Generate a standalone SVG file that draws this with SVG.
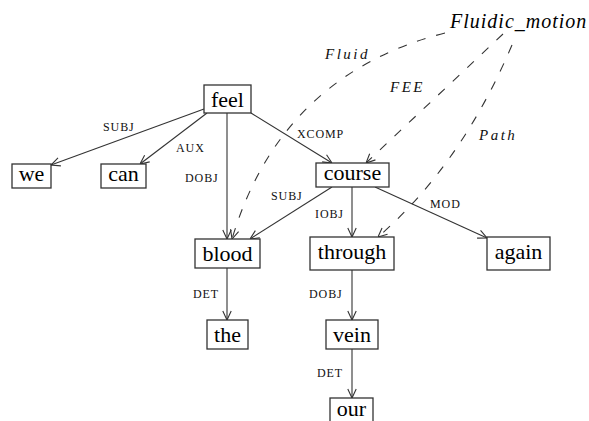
<svg xmlns="http://www.w3.org/2000/svg" width="589" height="421" viewBox="0 0 589 421">
<style>
.box{fill:#fff;stroke:#333;stroke-width:1.3}
.nt{font-family:"Liberation Serif",serif;font-size:22px;text-anchor:middle;fill:#000}
.el{font-family:"Liberation Serif",serif;font-size:12px;letter-spacing:0.9px;fill:#111}
.fl{font-family:"Liberation Serif",serif;font-style:italic;font-size:15px;letter-spacing:2.5px;fill:#111}
.e{fill:none;stroke:#333;stroke-width:1.1;marker-end:url(#arr)}
.d{fill:none;stroke:#333;stroke-width:1.1;stroke-dasharray:9 11;marker-end:url(#arr)}
</style>
<defs>
<marker id="arr" viewBox="0 0 10 10" refX="10" refY="5" markerWidth="10" markerHeight="10" markerUnits="userSpaceOnUse" orient="auto">
<path d="M1,0.8 L10,5 L1,9.2" fill="none" stroke="#333" stroke-width="1.1" stroke-dasharray="none"/>
</marker>
</defs>
<rect width="589" height="421" fill="#fff"/>
<g id="connectors">
<path class="e" d="M204,109 L51,165"/>
<path class="e" d="M207,113 L140,164"/>
<path class="e" d="M227,113 L227,239"/>
<path class="e" d="M251,113 L332,163"/>
<path class="e" d="M332,187 L250,239"/>
<path class="e" d="M352,187 L352,237"/>
<path class="e" d="M375,187 L487,238"/>
<path class="e" d="M227,268 L227,320"/>
<path class="e" d="M352,270 L352,320"/>
<path class="e" d="M352,349 L352,398"/>
<path class="d" d="M445,33 Q281,75 232,239"/>
<path class="d" d="M503,34 L366,163"/>
<path class="d" d="M512,45 Q461,165 378,237"/>
<text class="el" x="103" y="131">SUBJ</text>
<text class="el" x="176" y="152">AUX</text>
<text class="el" x="185" y="182">DOBJ</text>
<text class="el" x="297" y="138">XCOMP</text>
<text class="el" x="271" y="200">SUBJ</text>
<text class="el" x="315" y="218">IOBJ</text>
<text class="el" x="430" y="208">MOD</text>
<text class="el" x="193" y="298">DET</text>
<text class="el" x="309" y="298">DOBJ</text>
<text class="el" x="317" y="377">DET</text>
<text class="fl" x="325" y="59">Fluid</text>
<text class="fl" x="390" y="92">FEE</text>
<text class="fl" x="479" y="140">Path</text>
</g>
<g id="frame"><text x="450" y="28" font-family="Liberation Serif, serif" font-style="italic" font-size="20" letter-spacing="1" fill="#000">Fluidic_motion</text></g>
<g id="feel"><rect class="box" x="204" y="85" width="47" height="28"/><text class="nt" x="227.5" y="107">feel</text></g>
<g id="we"><rect class="box" x="12" y="164" width="39" height="24"/><text class="nt" x="31.5" y="181">we</text></g>
<g id="can"><rect class="box" x="101" y="164" width="45" height="24"/><text class="nt" x="123.5" y="181">can</text></g>
<g id="course"><rect class="box" x="316" y="163" width="73" height="24"/><text class="nt" x="352.5" y="180">course</text></g>
<g id="blood"><rect class="box" x="195" y="239" width="65" height="29"/><text class="nt" x="227.5" y="261">blood</text></g>
<g id="through"><rect class="box" x="310" y="237" width="84" height="33"/><text class="nt" x="352" y="259">through</text></g>
<g id="again"><rect class="box" x="487" y="237" width="63" height="33"/><text class="nt" x="518.5" y="259">again</text></g>
<g id="the"><rect class="box" x="207" y="320" width="41" height="29"/><text class="nt" x="227.5" y="342">the</text></g>
<g id="vein"><rect class="box" x="326" y="320" width="52" height="29"/><text class="nt" x="352" y="342">vein</text></g>
<g id="our"><rect class="box" x="330" y="398" width="43" height="30"/><text class="nt" x="351.5" y="416">our</text></g>
</svg>
